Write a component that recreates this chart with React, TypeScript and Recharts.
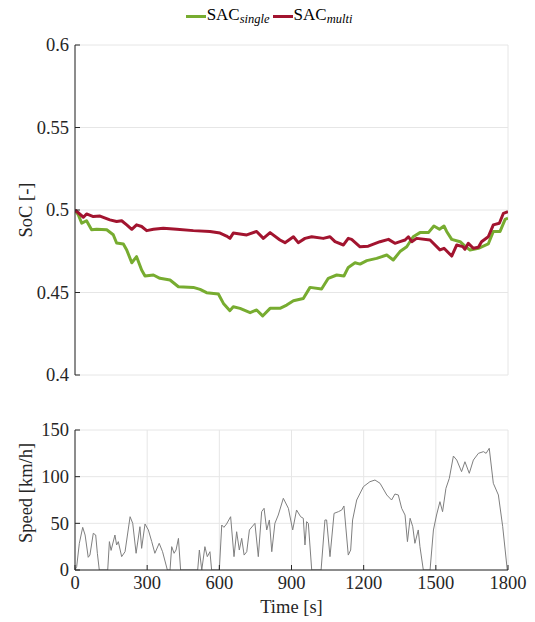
import React from 'react'
import { LineChart, Line, XAxis, YAxis, CartesianGrid, Legend } from 'recharts'

const FONT = '"Liberation Serif", "DejaVu Serif", serif'
const INK = '#262626'
const GRID = '#e6e6e6'

// x axis (shared by both panels)
const TIME_TICKS = [0, 300, 600, 900, 1200, 1500, 1800]
const SOC_TICKS = [0.4, 0.45, 0.5, 0.55, 0.6]
const SPEED_TICKS = [0, 50, 100, 150]
const SERIES_ORDER = ['single', 'multi']

// SAC single (green)
const SINGLE_T = [0, 14, 28, 48, 69, 90, 132, 159, 173, 201, 215, 236, 256, 277, 291, 326, 353, 395, 430, 492, 520, 547, 596, 617, 644, 658, 686, 728, 755, 780, 811, 852, 880, 908, 949, 977, 1025, 1053, 1088, 1118, 1136, 1164, 1185, 1213, 1254, 1296, 1323, 1351, 1379, 1406, 1434, 1469, 1492, 1515, 1534, 1545, 1566, 1601, 1621, 1642, 1677, 1718, 1739, 1767, 1788, 1800]
const SINGLE_SOC = [0.5, 0.497, 0.492, 0.4935, 0.488, 0.4883, 0.488, 0.485, 0.48, 0.4794, 0.4758, 0.468, 0.4717, 0.4636, 0.46, 0.4606, 0.4586, 0.4576, 0.4535, 0.4531, 0.4519, 0.4499, 0.4491, 0.4434, 0.439, 0.4414, 0.4404, 0.4378, 0.4394, 0.4358, 0.4404, 0.4404, 0.4424, 0.445, 0.4464, 0.4531, 0.4521, 0.4586, 0.4606, 0.46, 0.4652, 0.468, 0.4672, 0.4693, 0.4707, 0.4727, 0.4697, 0.4748, 0.4777, 0.4838, 0.4863, 0.4863, 0.4903, 0.4883, 0.4903, 0.487, 0.4822, 0.4808, 0.4781, 0.4758, 0.4768, 0.4794, 0.487, 0.487, 0.4943, 0.495]

// SAC multi (red)
const MULTI_T = [0, 35, 48, 76, 104, 145, 173, 194, 215, 236, 256, 277, 298, 326, 367, 423, 492, 561, 603, 630, 644, 658, 714, 755, 783, 811, 852, 873, 908, 928, 956, 984, 1032, 1060, 1081, 1116, 1136, 1150, 1185, 1219, 1268, 1303, 1330, 1351, 1372, 1386, 1400, 1420, 1476, 1517, 1534, 1566, 1587, 1612, 1621, 1635, 1656, 1677, 1690, 1718, 1739, 1764, 1781, 1800]
const MULTI_SOC = [0.5, 0.4956, 0.4976, 0.496, 0.4963, 0.494, 0.493, 0.4935, 0.491, 0.4883, 0.491, 0.49, 0.4875, 0.4883, 0.489, 0.4883, 0.4875, 0.487, 0.486, 0.4842, 0.4828, 0.486, 0.4849, 0.487, 0.4828, 0.4863, 0.4818, 0.4802, 0.4838, 0.4802, 0.4828, 0.4838, 0.4828, 0.4838, 0.4808, 0.4788, 0.4828, 0.4822, 0.4777, 0.4781, 0.4808, 0.4822, 0.4798, 0.4808, 0.4818, 0.4838, 0.4808, 0.4828, 0.4818, 0.4758, 0.4768, 0.4721, 0.4788, 0.4778, 0.4762, 0.4798, 0.4768, 0.4774, 0.4808, 0.4838, 0.491, 0.492, 0.498, 0.499]

// drive cycle speed
const SPEED_T = [0, 7, 18, 32, 42, 55, 62, 76, 86, 93, 101, 136, 143, 150, 166, 173, 180, 194, 208, 229, 240, 254, 270, 277, 291, 305, 319, 332, 350, 364, 384, 395, 402, 412, 420, 430, 439, 510, 517, 527, 540, 550, 561, 568, 600, 610, 619, 630, 647, 661, 672, 683, 693, 703, 714, 725, 748, 762, 776, 786, 797, 808, 818, 831, 845, 866, 887, 905, 921, 938, 949, 956, 963, 970, 984, 1023, 1039, 1046, 1060, 1077, 1095, 1109, 1118, 1136, 1146, 1154, 1171, 1199, 1226, 1247, 1268, 1296, 1316, 1330, 1344, 1358, 1372, 1382, 1393, 1404, 1413, 1427, 1434, 1448, 1476, 1490, 1503, 1517, 1528, 1542, 1556, 1573, 1587, 1607, 1621, 1639, 1656, 1677, 1698, 1709, 1722, 1739, 1760, 1778, 1797, 1800]
const SPEED_V = [0, 3.6, 28.6, 45.7, 37.5, 13.6, 16, 39.3, 37.5, 17.9, 0, 0, 30.4, 21, 37.5, 26.8, 30.4, 14.3, 19.6, 57.1, 50, 17.9, 46.4, 23.2, 49.3, 42.9, 30.4, 17.9, 28.6, 19.6, 0, 0, 25, 17.9, 21.4, 33.9, 0, 0, 21.4, 0, 25, 14.3, 19.6, 0, 0, 48.2, 45.7, 49.3, 57.1, 14.3, 41, 21.4, 33.9, 16, 19.6, 42.9, 50, 14.3, 62.5, 66.1, 42.9, 53.6, 19.6, 50, 58.9, 76.8, 66.1, 42.9, 64.3, 57.1, 55.4, 26.8, 51.8, 50, 0, 0, 53.6, 53.6, 14.3, 60.7, 62.5, 64.3, 68.6, 16, 21.4, 53.6, 75, 89.3, 94.6, 96.4, 92.9, 80.4, 75, 81.4, 80.4, 66.1, 58.9, 30.4, 55.4, 46.4, 28.6, 42.9, 25, 0, 0, 42.9, 58.9, 73.2, 62.5, 87.5, 98.2, 122.1, 117.8, 105.4, 116, 103.6, 117.8, 125, 126.8, 125, 130.4, 92.9, 80.4, 46.4, 0, 0]

const singleData = SINGLE_T.map((t, i) => ({ t, v: SINGLE_SOC[i] }))
const multiData = MULTI_T.map((t, i) => ({ t, v: MULTI_SOC[i] }))
const speedData = SPEED_T.map((t, i) => ({ t, v: SPEED_V[i] }))

const FS = 18.5

// tick labels drawn by hand so the serif font sticks
function YTick(props: any) {
  const { x, y, payload } = props
  return (
    <text x={x} y={y} dy="0.35em" textAnchor="end" fill={INK} fontSize={FS} fontFamily={FONT}>
      {payload.value}
    </text>
  )
}

function XTick(props: any) {
  const { x, y, payload } = props
  return (
    <text x={x} y={y} dy="0.71em" textAnchor="middle" fill={INK} fontSize={FS} fontFamily={FONT}>
      {payload.value}
    </text>
  )
}

// rotated y label, baseline ~32px from the page edge
function VLabel(props: any) {
  const { viewBox, text, shift = 0 } = props
  if (!viewBox) return null
  const cy = viewBox.y + viewBox.height / 2 + shift
  return (
    <text x={32} y={cy} transform={`rotate(-90, 32, ${cy})`} textAnchor="middle" fill={INK} fontSize={FS} fontFamily={FONT}>
      {text}
    </text>
  )
}

function XLabel(props: any) {
  const { viewBox, text } = props
  if (!viewBox) return null
  return (
    <text x={viewBox.x + viewBox.width / 2} y={viewBox.y + viewBox.height - 9} textAnchor="middle" fill={INK} fontSize={FS} fontFamily={FONT}>
      {text}
    </text>
  )
}

function renderLegend(props: any) {
  const items = [...(props.payload || [])].sort(
    (a: any, b: any) => SERIES_ORDER.indexOf(a.value) - SERIES_ORDER.indexOf(b.value)
  )
  return (
    <div style={{ textAlign: 'center', fontFamily: FONT, fontSize: 17, color: '#000', lineHeight: '24px', paddingLeft: 6 }}>
      {items.map((item: any) => (
        <span key={item.value} style={{ marginRight: 3 }}>
          <span style={{ display: 'inline-block', width: 20, height: 3, background: item.color, verticalAlign: 'middle', marginRight: 1 }} />
          SAC
          <span style={{ fontStyle: 'italic', fontSize: 12.5, position: 'relative', top: 3 }}>{item.value}</span>
        </span>
      ))}
    </div>
  )
}

// box on the top/right with inward ticks, like matlab
function boxAxes(ticks: number[], domain: number[]) {
  return [
    <XAxis key="xt" xAxisId="top" orientation="top" type="number" domain={[0, 1800]} ticks={TIME_TICKS} height={0} tick={false} tickSize={-5} stroke={INK} allowDataOverflow />,
    <YAxis key="yr" yAxisId="right" orientation="right" type="number" domain={domain} ticks={ticks} width={0} tick={false} tickSize={-5} stroke={INK} allowDataOverflow />,
  ]
}

export default function App() {
  return (
    <div style={{ position: 'absolute', left: 0, top: 0, width: 535, height: 622, background: '#fff', fontFamily: FONT }}>
      <div style={{ position: 'absolute', left: 0, top: 0 }}>
        <LineChart width={535} height={400} margin={{ top: 45, right: 27, bottom: 25, left: 15 }}>
          <CartesianGrid stroke={GRID} />
          <XAxis dataKey="t" type="number" domain={[0, 1800]} ticks={TIME_TICKS} interval={0} height={0} tick={false} tickSize={-5} stroke={INK} allowDataOverflow />
          <YAxis
            type="number"
            domain={[0.4, 0.6]}
            ticks={SOC_TICKS}
            interval={0}
            width={60}
            tickSize={-5}
            tickMargin={11}
            tick={<YTick />}
            stroke={INK}
            allowDataOverflow
            label={<VLabel text="SoC [-]" />}
          />
          {boxAxes(SOC_TICKS, [0.4, 0.6])}
          <Legend verticalAlign="middle" align="center" layout="horizontal" wrapperStyle={{ top: 3, left: 0, width: 535 }} content={renderLegend} />
          <Line data={singleData} dataKey="v" name="single" stroke="#77AC30" strokeWidth={3} dot={false} isAnimationActive={false} strokeLinejoin="round" />
          <Line data={multiData} dataKey="v" name="multi" stroke="#A2142F" strokeWidth={3} dot={false} isAnimationActive={false} strokeLinejoin="round" />
        </LineChart>
      </div>
      <div style={{ position: 'absolute', left: 0, top: 410 }}>
        <LineChart width={535} height={212} margin={{ top: 20, right: 27, bottom: 0, left: 15 }}>
          <CartesianGrid stroke={GRID} />
          <XAxis
            dataKey="t"
            type="number"
            domain={[0, 1800]}
            ticks={TIME_TICKS}
            interval={0}
            height={52}
            tickSize={-5}
            tickMargin={11}
            tick={<XTick />}
            stroke={INK}
            allowDataOverflow
            label={<XLabel text="Time [s]" />}
          />
          <YAxis
            type="number"
            domain={[0, 150]}
            ticks={SPEED_TICKS}
            interval={0}
            width={60}
            tickSize={-5}
            tickMargin={11}
            tick={<YTick />}
            stroke={INK}
            allowDataOverflow
            label={<VLabel text="Speed [km/h]" shift={-7} />}
          />
          {boxAxes(SPEED_TICKS, [0, 150])}
          <Line data={speedData} dataKey="v" stroke="#7f7f7f" strokeWidth={1} dot={false} isAnimationActive={false} />
        </LineChart>
      </div>
    </div>
  )
}
